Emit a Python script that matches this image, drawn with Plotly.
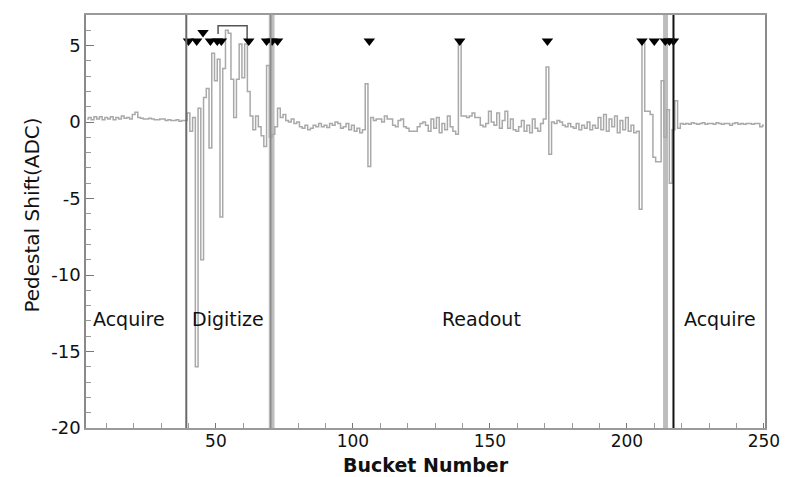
import plotly.graph_objects as go

# ---- data ----
buckets = list(range(3, 251))

acquire_vals = [0.2, 0.3, 0.15, 0.35, 0.2, 0.35, 0.15, 0.3, 0.2, 0.35,
                0.15, 0.3, 0.2, 0.4, 0.25, 0.3, 0.2, 0.5, 0.65, 0.3,
                0.25, 0.2, 0.2, 0.25, 0.2, 0.15, 0.15, 0.2, 0.2, 0.1,
                0.15, 0.1, 0.1, 0.15, 0.05, 0.1]                     # 3..38
digitize_vals = [0.1, 0.6, -0.6, 0.3, -16, 0.9, -9, 1.6, 2.2, -1.7,
                 4.5, 2.7, 4.1, -6.2, 3.5, 6.0, 5.8, 2.8, 0.3, 2.8,
                 5.1, 2.9, 5.1, 2.0, 0.4, -0.5, 0.4, -0.3, -0.9, -1.6,
                 3.7, -1.0]                                          # 39..70
readout_vals = [-0.8, -0.3, 0.9, 0.3, 0.5, 0.1, 0.0, 0.2, -0.1, 0.0,
                -0.3, -0.4, -0.2, -0.5, -0.4, -0.2, -0.3, -0.1, -0.3, -0.2,
                -0.35, -0.1, -0.2, 0.0, -0.1, -0.4, -0.3, -0.1, -0.5, -0.2,
                -0.6, -0.4, -0.7, -0.5, 2.5, -2.9, 0.3, 0.1, 0.2, 0.2,
                0.0, 0.4, 0.2, 0.2, -0.2, -0.3, 0.1, 0.2, -0.3, -0.4,
                -0.6, -0.6, -0.6, -0.3, -0.1, 0.0, -0.2, -0.6, 0.2, -0.4,
                0.3, -0.7, -0.1, -0.5, 0.4, -0.3, -0.6, -0.8, 5.3, 0.4,
                0.4, 0.3, 0.4, 0.6, 0.3, 0.3, -0.2, -0.3, -0.1, 0.7,
                0.0, -0.2, 0.6, -0.4, 0.1, 0.7, -0.4, 0.2, -0.5, -0.6,
                -0.3, 0.1, -0.6, -0.2, -0.7, 0.2, -0.4, -0.6, -0.1, 0.2,
                3.6, -2.1, 0.0, -0.1, 0.1, 0.0, -0.2, -0.3, -0.1, -0.3,
                -0.4, -0.1, -0.5, -0.2, -0.4, 0.0, -0.5, -0.2, -0.4, 0.3,
                -0.5, 0.5, -0.6, 0.2, -0.3, 0.4, -0.7, 0.1, -0.5, 0.3,
                -0.6, -0.2, -0.7, -0.6, -5.7, 5.3, 0.7, 0.7, 0.5, -2.3,
                -2.6, -2.6, 2.7]                                     # 71..213
acquire2_vals = [-1.0, 0.8, -4.0, -0.5, 1.4, -0.4, -0.1, -0.15, -0.1, -0.15,
                 -0.05, -0.1, -0.15, -0.1, -0.05, -0.15, -0.1, -0.1, -0.15, -0.05,
                 -0.1, -0.15, -0.1, -0.1, -0.2, -0.1, -0.05, -0.15, -0.1, -0.15,
                 -0.1, -0.1, -0.15, -0.1, -0.1, -0.3, -0.2]          # 214..250

shift_vals = acquire_vals + digitize_vals + readout_vals + acquire2_vals

marker_x = [40, 43, 48, 50.5, 52, 62, 68.5, 70.5, 72.5, 106, 139, 171,
            205.5, 210, 214, 215.5, 217]
marker_y = [5.3] * len(marker_x)
raised_x = [45.3]
raised_y = [5.85]

bracket_x = [50.8, 50.8, 61.4, 61.4]
bracket_y = [5.75, 6.3, 6.3, 5.4]

phase_lines = [39.2, 217.0]
phase_bands = [(69.3, 71.4), (213.2, 215.0)]
phase_names = ["Acquire", "Digitize", "Readout", "Acquire"]
phase_label_x = [18.2, 54.4, 147, 234]
phase_label_y = -12.9

y_tickvals = [-20, -15, -10, -5, 0, 5]
y_ticktext = ["-20", "-15", "-10", "-5", "0", "5"]
x_tickvals = [50, 100, 150, 200, 250]
x_ticktext = ["50", "100", "150", "200", "250"]

FONT = "DejaVu Sans"

fig = go.Figure()

fig.add_trace(go.Scatter(
    x=buckets, y=shift_vals, mode="lines",
    line=dict(color="#a9a9a9", width=1.5, shape="hvh"),
    showlegend=False, hoverinfo="skip"))

fig.add_trace(go.Scatter(
    x=bracket_x, y=bracket_y, mode="lines",
    line=dict(color="#555555", width=1.5), showlegend=False))

fig.add_trace(go.Scatter(
    x=marker_x + raised_x, y=marker_y + raised_y, mode="markers",
    marker=dict(symbol="triangle-down", size=10, color="black"),
    showlegend=False))

shapes = []
for (a, b) in phase_bands:
    shapes.append(dict(type="rect", xref="x", yref="paper", x0=a, x1=b,
                       y0=0, y1=1, fillcolor="#bdbdbd", line=dict(width=0),
                       layer="below"))
shapes.append(dict(type="line", xref="x", yref="paper", x0=70.0, x1=70.0,
                   y0=0, y1=1, line=dict(color="#8a8a8a", width=1.5)))
shapes.append(dict(type="line", xref="x", yref="paper", x0=phase_lines[0],
                   x1=phase_lines[0], y0=0, y1=1,
                   line=dict(color="#6a6a6a", width=2)))
shapes.append(dict(type="line", xref="x", yref="paper", x0=phase_lines[1],
                   x1=phase_lines[1], y0=0, y1=1,
                   line=dict(color="#111111", width=2)))

annotations = []
for name, xx in zip(phase_names, phase_label_x):
    annotations.append(dict(x=xx, y=phase_label_y, xref="x", yref="y",
                            text=name, showarrow=False,
                            font=dict(family=FONT, size=19, color="#111")))
# axis titles
annotations.append(dict(x=0.5, y=-0.0896, xref="paper", yref="paper",
                        xanchor="center", yanchor="middle",
                        text="Bucket Number", showarrow=False,
                        font=dict(family=FONT, size=19, color="#111",
                                  weight="bold")))
annotations.append(dict(x=-0.08, y=0.516, xref="paper", yref="paper",
                        xanchor="center", yanchor="middle", textangle=-90,
                        text="Pedestal Shift(ADC)", showarrow=False,
                        font=dict(family=FONT, size=20, color="#111")))

fig.update_layout(
    width=788, height=477,
    margin=dict(l=86, r=23, t=15, b=49),
    paper_bgcolor="white", plot_bgcolor="white",
    shapes=shapes, annotations=annotations,
    font=dict(family=FONT, color="#111"),
)

fig.update_xaxes(
    range=[2.6, 250.4], showgrid=False, zeroline=False, automargin=False,
    showline=True, mirror=True, linecolor="#9a9a9a", linewidth=1.5,
    ticks="inside", ticklen=5, tickcolor="#777",
    tickvals=x_tickvals, ticktext=x_ticktext, ticklabelstandoff=-3,
    minor=dict(ticks="inside", ticklen=5, dtick=10, tick0=0, tickcolor="#999"),
    tickfont=dict(family=FONT, size=17, color="#111"),
)
fig.update_yaxes(
    range=[-20, 7], showgrid=False, zeroline=False, automargin=False,
    showline=True, mirror=True, linecolor="#8a8a8a", linewidth=1.5,
    ticks="inside", ticklen=8, tickcolor="#777",
    tickvals=y_tickvals, ticktext=y_ticktext,
    minor=dict(ticks="inside", ticklen=5, dtick=1, tick0=0, tickcolor="#999"),
    tickfont=dict(family=FONT, size=18, color="#111"),
)

fig.write_html(
    "out.html",
    config={"displayModeBar": False},
    post_script="document.body.style.margin='0';document.body.style.overflow='hidden';",
)
